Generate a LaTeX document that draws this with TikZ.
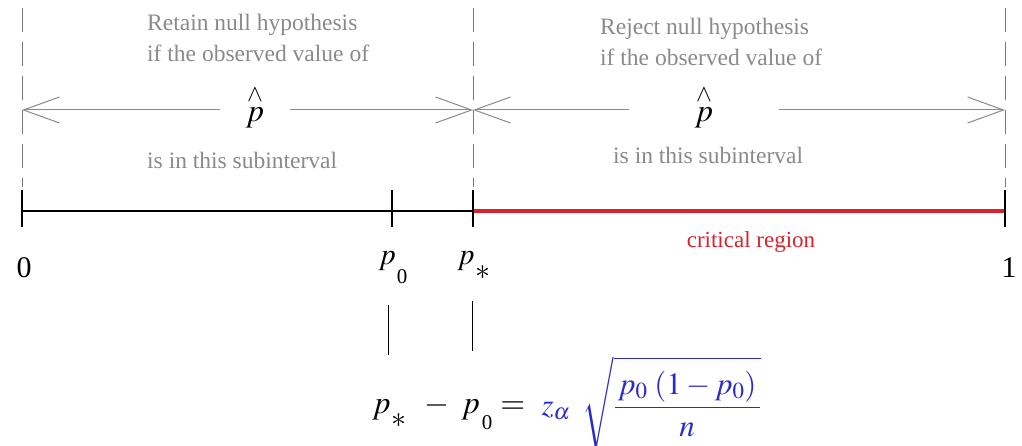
\documentclass[tikz,border=0pt]{standalone}
\usepackage{mathptmx}
\usepackage{fontspec}
\setmainfont{Liberation Serif}
\usetikzlibrary{arrows.meta,positioning}
\definecolor{Hint}{HTML}{8A8A8A}
\definecolor{Guide}{HTML}{7A7A7A}
\definecolor{Crit}{HTML}{D8232C}
\definecolor{Formula}{HTML}{2B2BC8}

\begin{document}
\begin{tikzpicture}[x=1pt,y=1pt,>={Straight Barb[length=36pt,width=26pt]},
  hint/.style={text=Hint,font=\fontsize{23.5}{31}\selectfont,align=left,inner sep=0pt},
  guide/.style={Guide,dash pattern=on 24pt off 10pt,line width=0.8pt},
  spanarrow/.style={->,Hint,line width=1pt},
  ticklabel/.style={font=\fontsize{30}{30}\selectfont,inner sep=0pt},
  phat/.style={font=\fontsize{32}{32}\selectfont,inner ysep=0pt}]
\useasboundingbox (0,0) rectangle (1022,445);
% points on the axis
\coordinate (zero) at (22,234);
\coordinate (pnull) at (392,234);
\coordinate (pstar) at (473,234);
\coordinate (one) at (1005,234);
\draw[line width=1.2pt] (zero) -- (pstar);
\draw[Crit,line width=3.5pt] (pstar) -- (one);
\foreach \t in {zero,pnull,pstar,one}
  \draw[line width=1.2pt] ([yshift=21pt]\t) -- ([yshift=-16pt]\t);
\foreach \t in {zero,pstar,one}
  \draw[guide] ([yshift=203pt]\t) -- ([yshift=24pt]\t);
% labels under the axis
\node[ticklabel] (lzero) at (24,177) {0};
\node[ticklabel] (lone) at (1009,177) {1};
\node[ticklabel,anchor=base] (lpnull) at (393,181) {$p$\kern1pt\raisebox{-19pt}{\fontsize{21}{21}\selectfont 0}};
\node[ticklabel,anchor=base] (lpstar) at (474,181) {$p$\kern1pt\raisebox{-15pt}{\fontsize{30}{30}\selectfont $\ast$}};
\node[font=\fontsize{23}{23}\selectfont,text=Crit] (crit) at (751,203) {critical region};
% the two subintervals
\node[hint,anchor=north west] (retain) at (147,431) {Retain null hypothesis\\if the observed value of};
\node[hint,anchor=west] (retainin) at (147,285) {is in this subinterval};
\node[hint,anchor=north west] (reject) at (600,427) {Reject null hypothesis\\if the observed value of};
\node[hint,anchor=west] (rejectin) at (613,290) {is in this subinterval};
\node[phat,inner xsep=26pt] (phatL) at (255,338) {$\stackrel{\wedge}{p}$};
\node[phat,inner xsep=66pt] (phatR) at (704,338) {$\stackrel{\wedge}{p}$};
\draw[spanarrow] ([yshift=-3pt]phatL.west) -- ([yshift=-3pt]phatL.west -| zero);
\draw[spanarrow] ([yshift=-3pt]phatL.east) -- ([yshift=-3pt]phatL.east -| pstar);
\draw[spanarrow] ([yshift=-3pt]phatR.west) -- ([yshift=-3pt]phatR.west -| pstar);
\draw[spanarrow] ([yshift=-3pt]phatR.east) -- ([yshift=-3pt]phatR.east -| one);
% the distance p* - p0
\draw[line width=1pt] ([yshift=-22pt]lpnull.south) ++(-5pt,0) -- ++(0,-50pt);
\draw[line width=1pt] ([yshift=-22pt]lpstar.south) ++(-2pt,0) -- ++(0,-50pt);
\node[font=\fontsize{32}{32}\selectfont,inner sep=0pt,anchor=base west] (eqleft) at (372,32)
  {$p$\kern1pt\raisebox{-14pt}{\fontsize{30}{30}\selectfont $\ast$}\kern18pt$-$\kern12pt$p$\kern2pt\raisebox{-16pt}{\fontsize{21}{21}\selectfont 0}\kern8pt$=$};
\node[font=\fontsize{31}{31}\selectfont,text=Formula,inner sep=0pt,anchor=base west] (eqright) at ([xshift=16pt,yshift=-2pt]eqleft.base east)
  {$z_{\alpha}\kern12pt\sqrt{\displaystyle\frac{\rule[-6pt]{0pt}{32pt}\kern3pt p_0\;(1-p_0)\kern3pt}{\rule[-7pt]{0pt}{28pt}n}}$};
\end{tikzpicture}
\end{document}
